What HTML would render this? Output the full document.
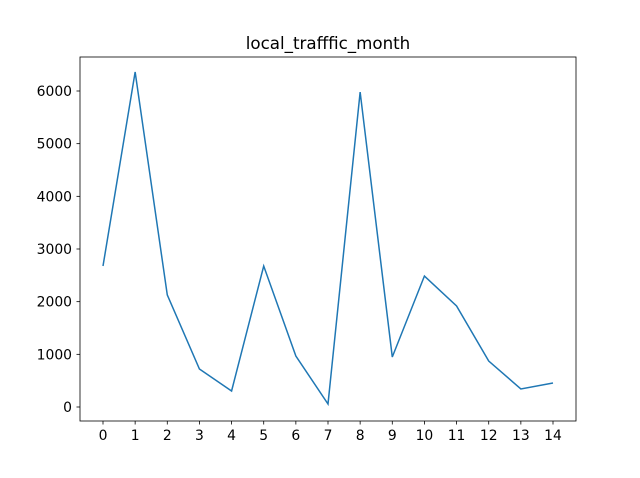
<!DOCTYPE html>
<html><head><meta charset="utf-8"><style>
body{margin:0;background:#fff;}
svg text{font-family:"DejaVu Sans","Liberation Sans",sans-serif;font-size:13.9px;fill:#000;}
</style></head><body>
<svg id="chart" width="640" height="473">
<text x="328" y="49" text-anchor="middle" style="font-size:16.7px">local_trafffic_month</text>
<g id="g"></g>
<rect x="80" y="57" width="496" height="364" fill="none" stroke="#000" stroke-width="0.8"/>
</svg>
<script>
const categories=[0,1,2,3,4,5,6,7,8,9,10,11,12,13,14];
const values=[2677,6360,2127,721,304,2677,968,57,5980,949,2487,1918,873,342,456];
const yTicks=[0,1000,2000,3000,4000,5000,6000];
const NS="http://www.w3.org/2000/svg";
const g=document.getElementById('g');
function xs(i){return 103+(553-103)*i/14;}
function ys(v){return 407-v*(407-91)/6000;}
function el(t,a){const e=document.createElementNS(NS,t);for(const k in a)e.setAttribute(k,a[k]);g.appendChild(e);return e;}
categories.forEach(c=>{
 const t=el('line',{x1:xs(c),x2:xs(c),y1:421,y2:424.5,stroke:'#000','stroke-width':0.8});
 
 
 const l=el('text',{x:xs(c),y:440,'text-anchor':'middle'});l.textContent=c;
 
 
});
yTicks.forEach(v=>{
 const t=el('line',{x1:76.5,x2:80,y1:ys(v),y2:ys(v),stroke:'#000','stroke-width':0.8});
 
 
 const l=el('text',{x:72,y:ys(v)+5,'text-anchor':'end'});l.textContent=v;
 
 
});
const p=el('polyline',{points:values.map((v,i)=>xs(categories[i])+','+ys(v)).join(' '),fill:'none',stroke:'#1f77b4','stroke-width':1.5});


</script>
</body></html>
